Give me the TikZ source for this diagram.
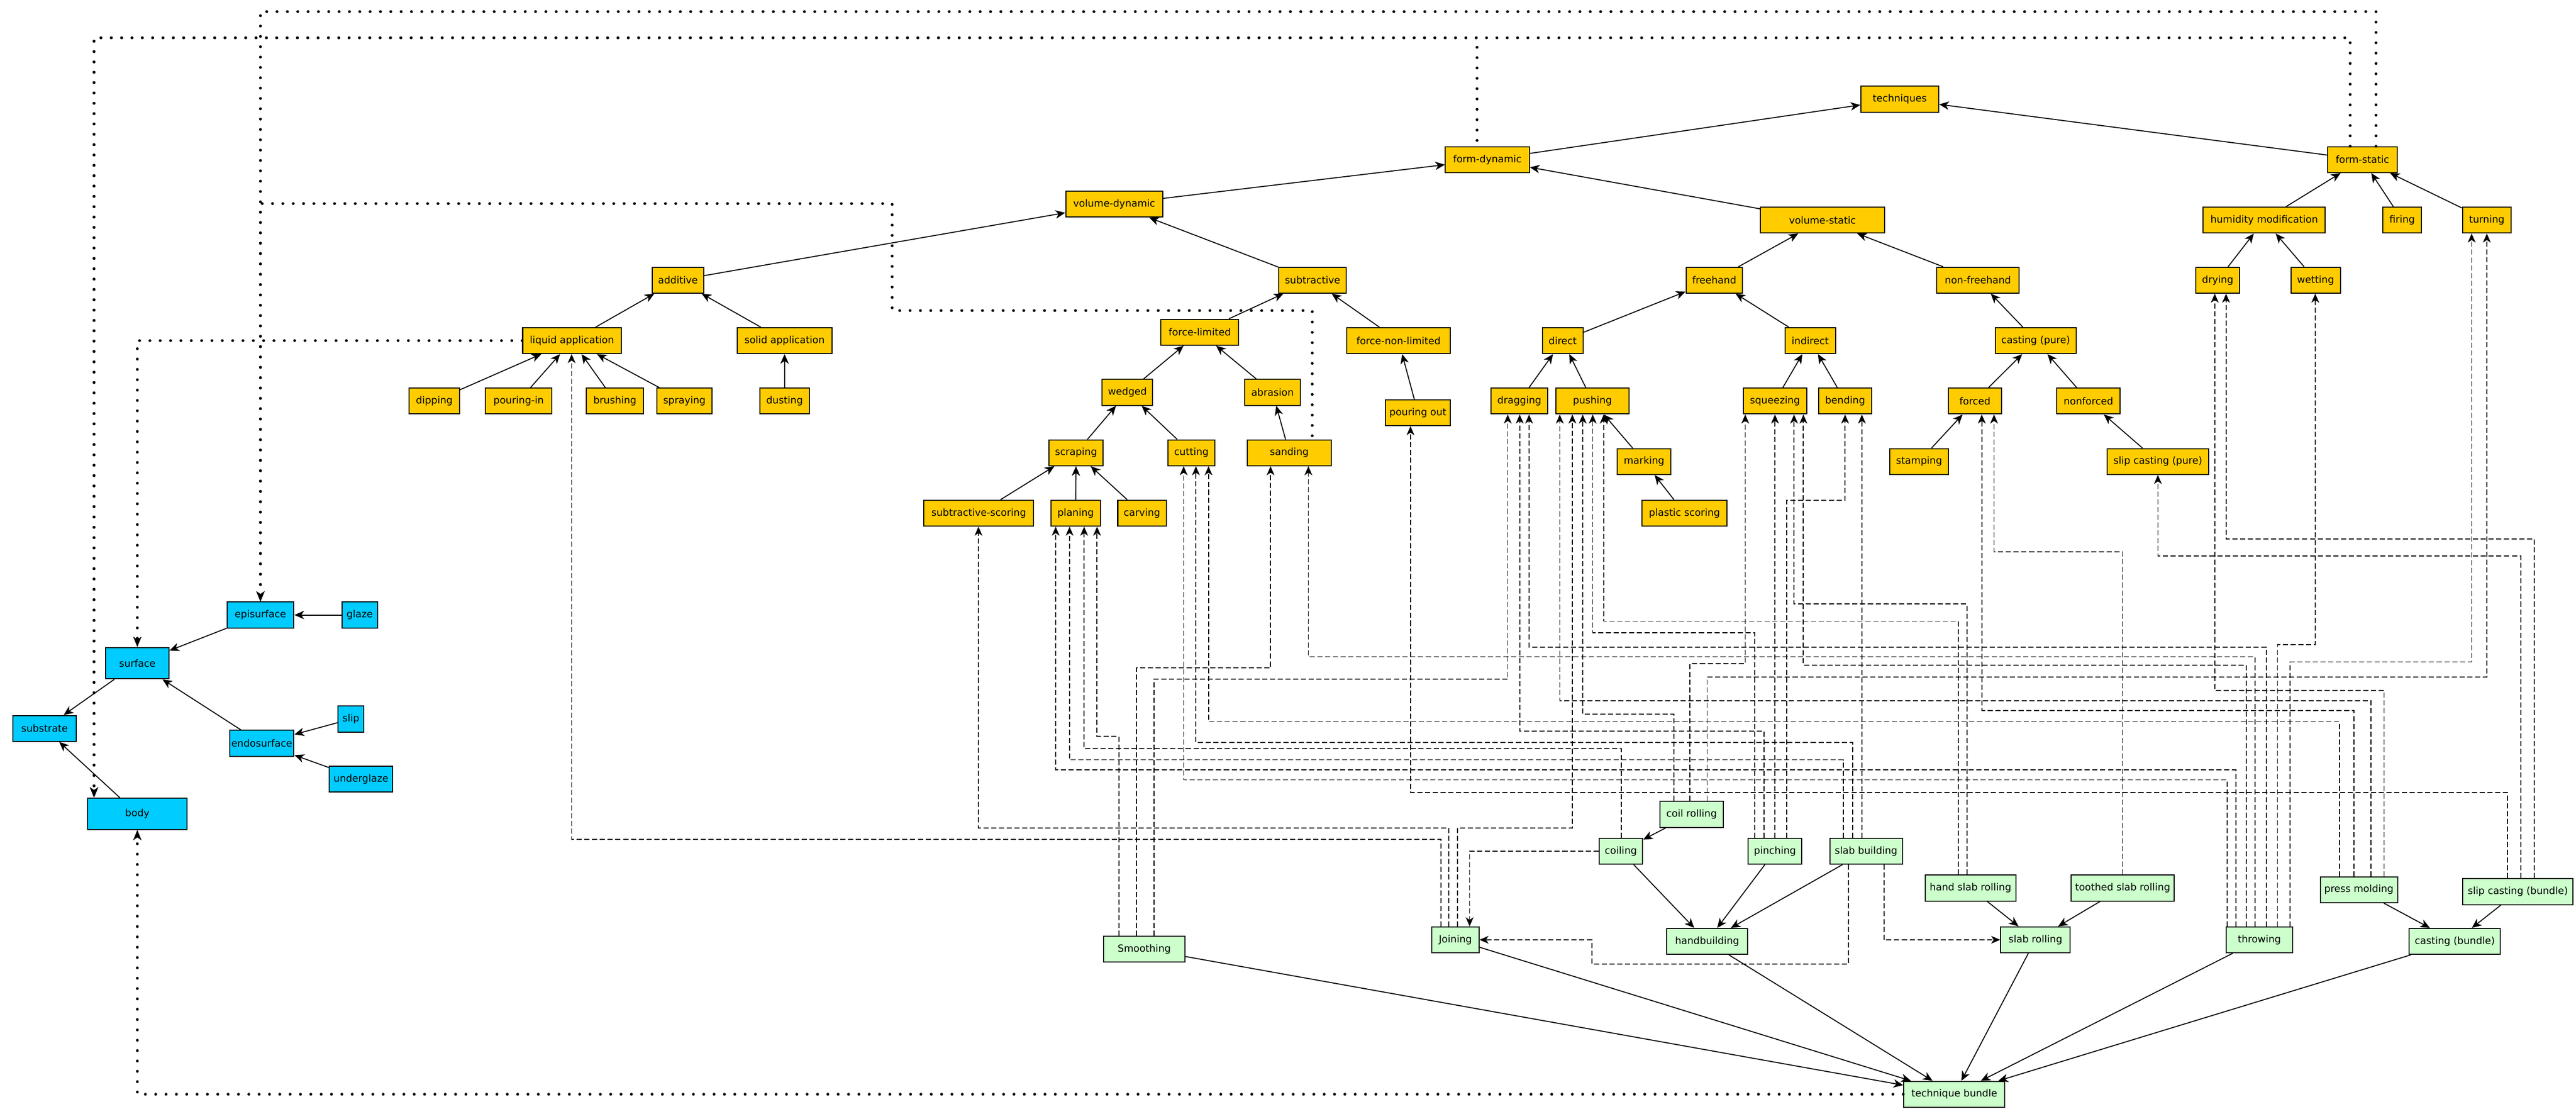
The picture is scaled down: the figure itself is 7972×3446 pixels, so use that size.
\documentclass[tikz,border=0pt]{standalone}
\usepackage{fontspec}
\setmainfont{DejaVu Sans}
\usetikzlibrary{arrows.meta}
\definecolor{cOr}{HTML}{FFCC00}
\definecolor{cBl}{HTML}{00CCFF}
\definecolor{cGr}{HTML}{CCFFCC}
\newcommand\nodefont{\fontsize{7.6pt}{9pt}\selectfont}
\newcommand\nd[6]{\node[#1, minimum width=#5*0.25pt] (#2) at (#3,#4) {#6};}
\newcommand\dl[5]{\draw[dsh] (#2,0 |- #1.north) |- (#4,#3) -- (#4,0 |- #5.south);}
\tikzset{
  base/.style={draw=black, line width=0.8pt, minimum height=20pt, inner sep=0pt, font=\nodefont},
  orn/.style={base, fill=cOr},
  blu/.style={base, fill=cBl},
  bluT/.style={base, fill=cBl, minimum height=24.25pt},
  grn/.style={base, fill=cGr},
  sol/.style={line width=0.75pt, -{Stealth[length=7.5pt,width=6.5pt,inset=2.2pt]}},
  dsh/.style={line width=0.75pt, dash pattern=on 4pt off 2pt, -{Stealth[length=7pt,width=6pt,inset=2pt]}},
  dotl/.style={line width=2.2pt, line cap=round, dash pattern=on 0pt off 8pt, -{Stealth[length=8pt,width=6.5pt,inset=2.2pt,line width=0.6pt]}}
}
\begin{document}
\begin{tikzpicture}[x=0.25pt,y=-0.25pt]
\useasboundingbox (0,0) rectangle (7972,3446);
\fill[white] (0,0) rectangle (7972,3446);
% ---------- orange nodes ----------
\nd{orn}{techniques}{5879}{307}{241}{techniques}
\nd{orn}{formdyn}{4603}{494}{260}{form-dynamic}
\nd{orn}{formstat}{7311}{494}{214}{form-static}
\nd{orn}{voldyn}{3448}{632}{300}{volume-dynamic}
\nd{orn}{volstat}{5640}{681}{384}{volume-static}
\nd{orn}{humid}{7007}{681}{378}{humidity modification}
\nd{orn}{firing}{7434}{681}{119}{firing}
\nd{orn}{turning}{7696}{681}{151}{turning}
\nd{orn}{additive}{2098}{867}{159}{additive}
\nd{orn}{subtractive}{4062}{867}{209}{subtractive}
\nd{orn}{freehand}{5305}{867}{174}{freehand}
\nd{orn}{nonfree}{6121}{867}{254}{non-freehand}
\nd{orn}{drying}{6863}{867}{136}{drying}
\nd{orn}{wetting}{7166}{867}{153}{wetting}
\nd{orn}{liquid}{1770}{1054}{305}{liquid application}
\nd{orn}{solid}{2428}{1054}{293}{solid application}
\nd{orn}{forcelim}{3713}{1028}{241}{force-limited}
\nd{orn}{forcenon}{4328}{1054}{320}{force-non-limited}
\nd{orn}{direct}{4836}{1054}{126}{direct}
\nd{orn}{indirect}{5602}{1054}{156}{indirect}
\nd{orn}{castpure}{6300}{1054}{250}{casting (pure)}
\nd{orn}{dipping}{1344}{1241}{155}{dipping}
\nd{orn}{pouringin}{1605}{1241}{206}{pouring-in}
\nd{orn}{brushing}{1903}{1241}{176}{brushing}
\nd{orn}{spraying}{2118}{1241}{170}{spraying}
\nd{orn}{dusting}{2428}{1241}{154}{dusting}
\nd{orn}{wedged}{3489}{1214}{156}{wedged}
\nd{orn}{abrasion}{3938}{1214}{171}{abrasion}
\nd{orn}{pouringout}{4388}{1277}{200}{pouring out}
\nd{orn}{dragging}{4702}{1241}{176}{dragging}
\nd{orn}{pushing}{4928}{1241}{227}{pushing}
\nd{orn}{squeezing}{5493}{1241}{196}{squeezing}
\nd{orn}{bending}{5710}{1241}{165}{bending}
\nd{orn}{forced}{6112}{1241}{164}{forced}
\nd{orn}{nonforced}{6463}{1241}{195}{nonforced}
\nd{orn}{scraping}{3330}{1401}{168}{scraping}
\nd{orn}{cutting}{3687}{1401}{145}{cutting}
\nd{orn}{sanding}{3990}{1401}{261}{sanding}
\nd{orn}{marking}{5088}{1428}{166}{marking}
\nd{orn}{stamping}{5939}{1428}{182}{stamping}
\nd{orn}{slippure}{6678}{1428}{314}{slip casting (pure)}
\nd{orn}{subscoring}{3029}{1588}{340}{subtractive-scoring}
\nd{orn}{planing}{3329}{1588}{152}{planing}
\nd{orn}{carving}{3534}{1588}{150}{carving}
\nd{orn}{plastic}{5213}{1588}{263}{plastic scoring}
% ---------- blue nodes ----------
\nd{blu}{episurface}{806}{1903}{207}{episurface}
\nd{blu}{glaze}{1113}{1903}{110}{glaze}
\nd{bluT}{surface}{425}{2052}{196}{surface}
\nd{blu}{substrate}{138}{2254}{196}{substrate}
\nd{blu}{endosurface}{810}{2300}{199}{endosurface}
\nd{blu}{slip}{1086}{2225}{79}{slip}
\nd{blu}{underglaze}{1117}{2411}{196}{underglaze}
\nd{bluT}{body}{425}{2518}{307}{body}
% ---------- green nodes ----------
\nd{grn}{coilrolling}{5235}{2520}{195}{coil rolling}
\nd{grn}{coiling}{5016}{2634}{135}{coiling}
\nd{grn}{pinching}{5493}{2634}{165}{pinching}
\nd{grn}{slabbuilding}{5775}{2634}{225}{slab building}
\nd{grn}{handslab}{6098}{2748}{281}{hand slab rolling}
\nd{grn}{toothed}{6569}{2748}{320}{toothed slab rolling}
\nd{grn}{pressmold}{7300}{2753}{239}{press molding}
\nd{grn}{slipbundle}{7792}{2759}{342}{slip casting (bundle)}
\nd{grn}{smoothing}{3541}{2937}{253}{Smoothing}
\nd{grn}{joining}{4504}{2908}{146}{Joining}
\nd{grn}{handbuilding}{5283}{2913}{251}{handbuilding}
\nd{grn}{slabrolling}{6299}{2908}{215}{slab rolling}
\nd{grn}{throwing}{6992}{2908}{206}{throwing}
\nd{grn}{castbundle}{7597}{2913}{282}{casting (bundle)}
\nd{grn}{techbundle}{6048}{3386}{313}{technique bundle}
% ---------- solid edges: taxonomy ----------
\draw[sol] (formdyn) -- (techniques);
\draw[sol] (formstat) -- (techniques);
\draw[sol] (voldyn) -- (formdyn);
\draw[sol] (volstat) -- (formdyn);
\draw[sol] (humid) -- (formstat);
\draw[sol] (firing) -- (formstat);
\draw[sol] (turning) -- (formstat);
\draw[sol] (additive) -- (voldyn);
\draw[sol] (subtractive) -- (voldyn);
\draw[sol] (freehand) -- (volstat);
\draw[sol] (nonfree) -- (volstat);
\draw[sol] (drying) -- (humid);
\draw[sol] (wetting) -- (humid);
\draw[sol] (liquid) -- (additive);
\draw[sol] (solid) -- (additive);
\draw[sol] (forcelim) -- (subtractive);
\draw[sol] (forcenon) -- (subtractive);
\draw[sol] (direct) -- (freehand);
\draw[sol] (indirect) -- (freehand);
\draw[sol] (castpure) -- (nonfree);
\draw[sol] (dipping) -- (liquid);
\draw[sol] (pouringin) -- (liquid);
\draw[sol] (brushing) -- (liquid);
\draw[sol] (spraying) -- (liquid);
\draw[sol] (dusting) -- (solid);
\draw[sol] (wedged) -- (forcelim);
\draw[sol] (abrasion) -- (forcelim);
\draw[sol] (pouringout) -- (forcenon);
\draw[sol] (dragging) -- (direct);
\draw[sol] (pushing) -- (direct);
\draw[sol] (squeezing) -- (indirect);
\draw[sol] (bending) -- (indirect);
\draw[sol] (forced) -- (castpure);
\draw[sol] (nonforced) -- (castpure);
\draw[sol] (scraping) -- (wedged);
\draw[sol] (cutting) -- (wedged);
\draw[sol] (sanding) -- (abrasion);
\draw[sol] (marking) -- (pushing);
\draw[sol] (stamping) -- (forced);
\draw[sol] (slippure) -- (nonforced);
\draw[sol] (subscoring) -- (scraping);
\draw[sol] (planing) -- (scraping);
\draw[sol] (carving) -- (scraping);
\draw[sol] (plastic) -- (marking);
% ---------- solid edges: blue ----------
\draw[sol] (glaze) -- (episurface);
\draw[sol] (episurface) -- (surface);
\draw[sol] (endosurface) -- (surface);
\draw[sol] (slip) -- (endosurface);
\draw[sol] (underglaze) -- (endosurface);
\draw[sol] (surface) -- (substrate);
\draw[sol] (body) -- (substrate);
% ---------- solid edges: green ----------
\draw[sol] (coilrolling) -- (coiling);
\draw[sol] (coiling) -- (handbuilding);
\draw[sol] (pinching) -- (handbuilding);
\draw[sol] (slabbuilding) -- (handbuilding);
\draw[sol] (handslab) -- (slabrolling);
\draw[sol] (toothed) -- (slabrolling);
\draw[sol] (pressmold) -- (castbundle);
\draw[sol] (slipbundle) -- (castbundle);
\draw[sol] (smoothing) -- (techbundle);
\draw[sol] (joining) -- (techbundle);
\draw[sol] (handbuilding) -- (techbundle);
\draw[sol] (slabrolling) -- (techbundle);
\draw[sol] (throwing) -- (techbundle);
\draw[sol] (castbundle) -- (techbundle);
% ---------- dashed edges ----------
\dl{joining}{4459}{2597}{1769}{liquid}
\dl{joining}{4483}{2562}{3028}{subscoring}
\dl{joining}{4511}{2562}{4866}{pushing}
\dl{smoothing}{3463}{2279}{3395}{planing}
\dl{smoothing}{3517}{2067}{3932}{sanding}
\dl{smoothing}{3571}{2102}{4666}{dragging}
\dl{coilrolling}{5180}{2210}{4898}{pushing}
\dl{coilrolling}{5229}{2054}{5401}{squeezing}
\dl{coilrolling}{5283}{2095}{7696}{turning}
\dl{coiling}{5018}{2317}{3355}{planing}
\dl{pinching}{5431}{1958}{4929}{pushing}
\dl{pinching}{5459}{2263}{4703}{dragging}
\draw[dsh] (5493,0 |- pinching.north) -- (5493,0 |- squeezing.south);
\dl{pinching}{5529}{1548}{5710}{bending}
\dl{slabbuilding}{5704}{2351}{3310}{planing}
\dl{slabbuilding}{5733}{2298}{3701}{cutting}
\draw[dsh] (5762,0 |- slabbuilding.north) -- (5762,0 |- bending.south);
\dl{handslab}{6060}{1922}{4963}{pushing}
\dl{handslab}{6087}{1869}{5552}{squeezing}
\dl{toothed}{6568}{1707}{6171}{forced}
\dl{throwing}{6892}{2413}{3663}{cutting}
\dl{throwing}{6919}{2382}{3267}{planing}
\dl{throwing}{6951}{2058}{5581}{squeezing}
\dl{throwing}{6978}{2032}{4049}{sanding}
\dl{throwing}{7013}{2002}{4732}{dragging}
\dl{throwing}{7048}{1995}{7165}{wetting}
\dl{throwing}{7087}{2048}{7649}{turning}
\dl{pressmold}{7240}{2233}{3740}{cutting}
\dl{pressmold}{7285}{2198}{6133}{forced}
\dl{pressmold}{7338}{2169}{4827}{pushing}
\dl{pressmold}{7378}{2136}{6854}{drying}
\dl{slipbundle}{7760}{2452}{4365}{pouringout}
\dl{slipbundle}{7801}{1721}{6678}{slippure}
\dl{slipbundle}{7843}{1668}{6889}{drying}
\draw[dsh] (coiling.west) -| (4548,0 |- joining.north);
\draw[dsh] (5830,0 |- slabbuilding.south) |- (slabrolling.west);
\draw[dsh] (5721,0 |- slabbuilding.south) -- (5721,2983) -- (4926,2983) |- (joining.east);
% ---------- dotted edges ----------
\draw[dotl] (techbundle.west) -| (body.south);
\draw[dotl] (liquid.west) -| (surface.north);
\draw[dotl] (7353,0 |- formstat.north) -- (7353,36) -| (episurface.north);
\draw[dotl, dash phase=5.25pt] (4061,0 |- sanding.north) -- (4061,961) -- (2761,961) -- (2761,630) -| (episurface.north);
\draw[dotl] (7273,0 |- formstat.north) -- (7273,117) -| (291,0 |- body.north);
\draw[dotl, dash phase=3.5pt] (4571,0 |- formdyn.north) -- (4571,117) -| (291,0 |- body.north);
\end{tikzpicture}
\end{document}
